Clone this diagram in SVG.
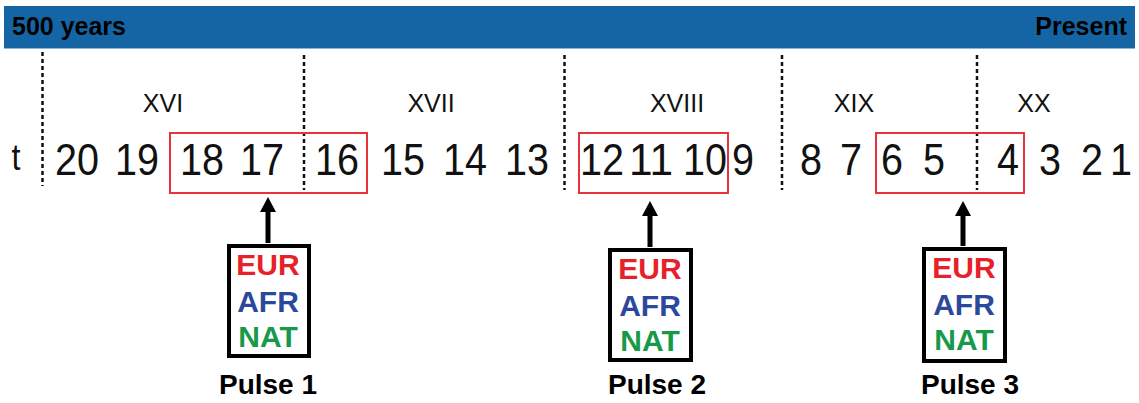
<svg xmlns="http://www.w3.org/2000/svg" width="1139" height="403" viewBox="0 0 1139 403">
<style>
.hdr{font-family:"Liberation Sans",Arial,sans-serif;font-weight:bold;font-size:25px;fill:#000}
.rom{font-family:"Liberation Sans",Arial,sans-serif;font-size:25px;fill:#111;text-anchor:middle}
.num{font-family:"Liberation Sans",Arial,sans-serif;font-size:44px;fill:#111;text-anchor:middle}
.div{stroke:#111;stroke-width:2.5;stroke-dasharray:4 3;fill:none}
.win{fill:none;stroke:#e8323c;stroke-width:2}
.pop{fill:#fff;stroke:#000;stroke-width:4}
.lab{font-family:"Liberation Sans",Arial,sans-serif;font-weight:bold;font-size:30px;text-anchor:middle}
.eur{fill:#e8202a}.afr{fill:#2b489c}.nat{fill:#17994a}
.pulse{font-family:"Liberation Sans",Arial,sans-serif;font-weight:bold;font-size:28px;text-anchor:middle;fill:#000}
.arr{fill:#000}
</style>
<g id="header">
<rect x="4" y="6" width="1131" height="43" fill="#1565a5"/>
<line x1="4" y1="48.5" x2="1135" y2="48.5" stroke="#8fb2d6" stroke-width="1"/>
<text class="hdr" x="12" y="35">500 years</text>
<text class="hdr" x="1127" y="35" text-anchor="end">Present</text>
</g>
<g id="dividers">
<line class="div" x1="42.5" y1="52" x2="42.5" y2="186"/>
<line class="div" x1="304" y1="55" x2="304" y2="190"/>
<line class="div" x1="564.5" y1="55" x2="564.5" y2="190"/>
<line class="div" x1="782" y1="55" x2="782" y2="190"/>
<line class="div" x1="977" y1="55" x2="977" y2="190"/>
</g>
<g id="centuries">
<text class="rom" x="163" y="112">XVI</text>
<text class="rom" x="431" y="112">XVII</text>
<text class="rom" x="677" y="112">XVIII</text>
<text class="rom" x="854" y="112">XIX</text>
<text class="rom" x="1034" y="112">XX</text>
</g>
<g id="generations">
<text class="num" x="16" y="170" style="font-size:36px" textLength="9" lengthAdjust="spacingAndGlyphs">t</text>
<text class="num" x="77" y="175" textLength="44" lengthAdjust="spacingAndGlyphs">20</text>
<text class="num" x="137" y="175" textLength="44" lengthAdjust="spacingAndGlyphs">19</text>
<text class="num" x="202" y="175" textLength="44" lengthAdjust="spacingAndGlyphs">18</text>
<text class="num" x="262" y="175" textLength="44" lengthAdjust="spacingAndGlyphs">17</text>
<text class="num" x="337" y="175" textLength="44" lengthAdjust="spacingAndGlyphs">16</text>
<text class="num" x="403" y="175" textLength="44" lengthAdjust="spacingAndGlyphs">15</text>
<text class="num" x="465" y="175" textLength="44" lengthAdjust="spacingAndGlyphs">14</text>
<text class="num" x="527" y="175" textLength="44" lengthAdjust="spacingAndGlyphs">13</text>
<text class="num" x="602" y="175" textLength="44" lengthAdjust="spacingAndGlyphs">12</text>
<text class="num" x="651" y="175" textLength="44" lengthAdjust="spacingAndGlyphs">11</text>
<text class="num" x="705" y="175" textLength="44" lengthAdjust="spacingAndGlyphs">10</text>
<text class="num" x="743" y="175" textLength="22" lengthAdjust="spacingAndGlyphs">9</text>
<text class="num" x="811" y="175" textLength="22" lengthAdjust="spacingAndGlyphs">8</text>
<text class="num" x="851" y="175" textLength="22" lengthAdjust="spacingAndGlyphs">7</text>
<text class="num" x="892" y="175" textLength="22" lengthAdjust="spacingAndGlyphs">6</text>
<text class="num" x="934" y="175" textLength="22" lengthAdjust="spacingAndGlyphs">5</text>
<text class="num" x="1008" y="175" textLength="22" lengthAdjust="spacingAndGlyphs">4</text>
<text class="num" x="1050" y="175" textLength="22" lengthAdjust="spacingAndGlyphs">3</text>
<text class="num" x="1092" y="175" textLength="22" lengthAdjust="spacingAndGlyphs">2</text>
<text class="num" x="1121" y="175" textLength="22" lengthAdjust="spacingAndGlyphs">1</text>
</g>
<g id="windows">
<rect class="win" x="170" y="133" width="197" height="60"/>
<rect class="win" x="579" y="133" width="149" height="60"/>
<rect class="win" x="876" y="133" width="148" height="60"/>
</g>
<g id="connectors">
<polygon class="arr" points="268,197 276,212 270.5,212 270.5,243 265.5,243 265.5,212 260,212"/>
<polygon class="arr" points="650,201 658,216 652.5,216 652.5,247 647.5,247 647.5,216 642,216"/>
<polygon class="arr" points="963,201 971,216 965.5,216 965.5,246 960.5,246 960.5,216 955,216"/>
</g>
<g id="pulse1">
<rect class="pop" x="229" y="246" width="80" height="110"/>
<text class="lab eur" x="268" y="275">EUR</text>
<text class="lab afr" x="268" y="312">AFR</text>
<text class="lab nat" x="268" y="347">NAT</text>
<text class="pulse" x="268" y="394">Pulse 1</text>
</g>
<g id="pulse2">
<rect class="pop" x="610" y="250" width="81" height="110"/>
<text class="lab eur" x="650" y="279">EUR</text>
<text class="lab afr" x="650" y="316">AFR</text>
<text class="lab nat" x="650" y="351">NAT</text>
<text class="pulse" x="657" y="394">Pulse 2</text>
</g>
<g id="pulse3">
<rect class="pop" x="924" y="249" width="81" height="112"/>
<text class="lab eur" x="964" y="278">EUR</text>
<text class="lab afr" x="964" y="315">AFR</text>
<text class="lab nat" x="964" y="350">NAT</text>
<text class="pulse" x="970" y="394">Pulse 3</text>
</g>
</svg>
